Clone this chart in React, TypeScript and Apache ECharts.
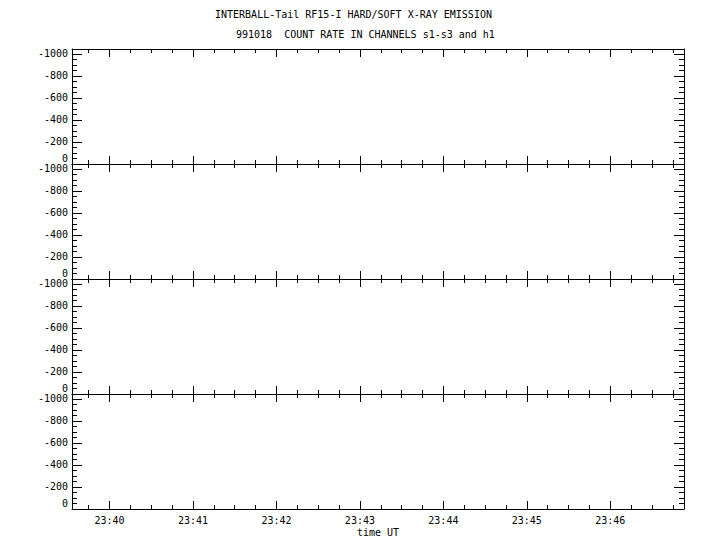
import React, { useEffect, useRef } from "react";
import * as echarts from "echarts";

// ---- data ----
const titleLine1 = "INTERBALL-Tail RF15-I HARD/SOFT X-RAY EMISSION";
const titleLine2 = "991018  COUNT RATE IN CHANNELS s1-s3 and h1";
const channels = ["s1", "s2", "s3", "h1"];
// no counts were plotted in the reference (all panels empty)
const countRates: number[][] = [[], [], [], []];
const timeLabels = ["23:40", "23:41", "23:42", "23:43", "23:44", "23:45", "23:46"];
const yLabelValues = [-1000, -800, -600, -400, -200, 0];
const timeStart = "23:39:33";
const timeEnd = "23:46:53";
const yTop = -1045;
const yBottom = 0;

const toSec = (t: string) => {
  const p = t.split(":").map(Number);
  return p[0] * 3600 + p[1] * 60 + (p[2] || 0);
};
const fmt = (v: number) => {
  const h = Math.floor(v / 3600);
  const m = Math.floor((v % 3600) / 60);
  return String(h).padStart(2, "0") + ":" + String(m).padStart(2, "0");
};

const xMin = toSec(timeStart);
const xMax = toSec(timeEnd);
const xMajor = timeLabels.map(toSec);
const xMinor: number[] = [];
for (let s = Math.ceil(xMin / 15) * 15; s <= xMax; s += 15) xMinor.push(s);
const yMinor: number[] = [];
for (let v = -1000; v <= 0; v += 50) yMinor.push(v);

const FONT = "DejaVu Sans Mono";
const panelTops = [49, 164, 279, 394];
const panelH = 115;

export default function App() {
  const ref = useRef<HTMLDivElement>(null);
  useEffect(() => {
    if (!ref.current) return;
    const chart = echarts.init(ref.current, null, { renderer: "svg" });
    const black = { color: "#000", width: 1 };
    const grids = panelTops.map((t) => ({ left: 72, right: 36, top: t, height: panelH }));
    const xAxes: any[] = [];
    const yAxes: any[] = [];
    const series: any[] = [];
    grids.forEach((_, gi) => {
      const isLast = gi === grids.length - 1;
      const baseX = {
        type: "value",
        gridIndex: gi,
        min: xMin,
        max: xMax,
        splitLine: { show: false },
        axisLabel: { show: false },
      };
      (["bottom", "top"] as const).forEach((pos) => {
        const showLabel = isLast && pos === "bottom";
        xAxes.push({
          ...baseX,
          position: pos,
          axisLine: { show: true, onZero: false, lineStyle: black },
          axisTick: { show: true, inside: true, length: 8, customValues: xMajor, lineStyle: black },
          axisLabel: showLabel
            ? {
                show: true,
                customValues: xMajor,
                formatter: (v: number) => fmt(v),
                margin: 6,
                color: "#000",
                fontFamily: FONT,
                fontSize: 10,
              }
            : { show: false },
          name: showLabel ? "time UT" : "",
          nameLocation: "middle",
          nameGap: 18,
          nameTextStyle: { color: "#000", fontFamily: FONT, fontSize: 10 },
        });
        xAxes.push({
          ...baseX,
          position: pos,
          axisLine: { show: false, onZero: false },
          axisTick: { show: true, inside: true, length: 4, customValues: xMinor, lineStyle: black },
        });
      });
      const baseY = {
        type: "value",
        gridIndex: gi,
        min: yTop,
        max: yBottom,
        inverse: true,
        splitLine: { show: false },
      };
      (["left", "right"] as const).forEach((pos) => {
        yAxes.push({
          ...baseY,
          position: pos,
          axisLine: { show: true, onZero: false, lineStyle: black },
          axisTick: { show: true, inside: true, length: 10, customValues: yLabelValues, lineStyle: black },
          axisLabel:
            pos === "left"
              ? {
                  show: true,
                  customValues: yLabelValues,
                  margin: 4,
                  color: "#000",
                  fontFamily: FONT,
                  fontSize: 10,
                  formatter: (v: number) => (v === 0 ? "{z|0}" : String(v)),
                  rich: {
                    z: { color: "#000", fontFamily: FONT, fontSize: 10, padding: [0, 0, 12, 0] },
                  },
                }
              : { show: false },
        });
        yAxes.push({
          ...baseY,
          position: pos,
          axisLine: { show: false, onZero: false },
          axisTick: { show: true, inside: true, length: 5, customValues: yMinor, lineStyle: black },
          axisLabel: { show: false },
        });
      });
      series.push({
        type: "line",
        name: channels[gi],
        xAxisIndex: gi * 4,
        yAxisIndex: gi * 4,
        data: countRates[gi],
        showSymbol: false,
        lineStyle: { color: "#000", width: 1 },
      });
    });

    chart.setOption({
      animation: false,
      backgroundColor: "#fff",
      title: [
        {
          text: titleLine1,
          left: 215,
          top: 9,
          padding: 0,
          textStyle: { color: "#000", fontFamily: FONT, fontSize: 10, fontWeight: "normal" },
        },
        {
          text: titleLine2,
          left: 236,
          top: 29,
          padding: 0,
          textStyle: { color: "#000", fontFamily: FONT, fontSize: 10, fontWeight: "normal" },
        },
      ],
      grid: grids,
      xAxis: xAxes,
      yAxis: yAxes,
      series,
    });
    return () => chart.dispose();
  }, []);
  return (
    <div
      ref={ref}
      style={{ position: "fixed", left: 0, top: 0, width: 720, height: 550, background: "#fff" }}
    />
  );
}
